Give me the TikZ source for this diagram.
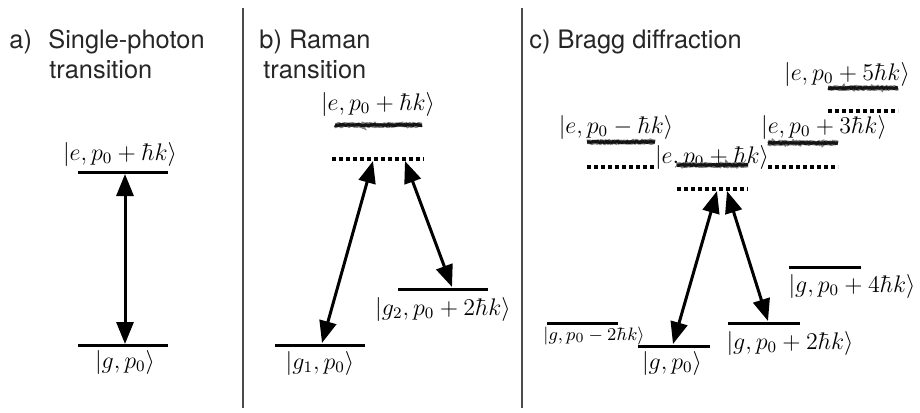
\documentclass[tikz,border=0pt]{standalone}
\usepackage{fontspec}
\setsansfont{TeX Gyre Heros}
\usetikzlibrary{arrows.meta,decorations.pathmorphing}
\tikzset{
  title/.style={inner sep=0pt, anchor=base west, text=black!85, font=\fontsize{12.7}{15}\selectfont\sffamily},
  lab/.style={inner sep=0pt, anchor=base, font=\fontsize{12}{14}\selectfont},
  smalllab/.style={inner sep=0pt, anchor=base, font=\fontsize{9.5}{11}\selectfont},
  level/.style={draw=black, line width=1.5pt},
  virt/.style={draw=black, line width=1.6pt, dash pattern=on 1.8pt off 1.7pt},
  fuzzyhalo/.style={draw=black!50, line width=2.3pt, decorate, decoration={random steps, segment length=0.6pt, amplitude=0.35pt}},
  fuzzycore/.style={draw=black!92, line width=1.6pt, decorate, decoration={random steps, segment length=0.5pt, amplitude=0.2pt}},
  trans/.style={draw=black, line width=1.5pt, {Triangle[length=11pt,width=8.5pt]}-{Triangle[length=11pt,width=8.5pt]}},
  sep/.style={draw=black!70, line width=0.8pt}
}
\newcommand{\fuzzylevel}[3]{%
  \draw[fuzzyhalo] (#1,#3) -- (#2,#3);
  \draw[fuzzycore] (#1,#3) -- (#2,#3);
}
\begin{document}
\begin{tikzpicture}[x=0.5pt,y=-0.5pt]
\useasboundingbox (0,0) rectangle (920,412);
\fill[white] (0,0) rectangle (920,412);

% separators
\coordinate (s1t) at (243,8); \coordinate (s1b) at (243,408);
\coordinate (s2t) at (522,8); \coordinate (s2b) at (522,408);
\draw[sep] (s1t) -- (s1b);
\draw[sep] (s2t) -- (s2b);

% titles
\node[title] (ta) at (9,48) {a)};
\node[title] (ta1) at (48,48) {Single-photon};
\node[title] (ta2) at (49,78) {transition};
\node[title] (tb1) at (259,48) {b) Raman};
\node[title] (tb2) at (263,78) {transition};
\node[title] (tc1) at (529,48) {c) Bragg diffraction};

% ---------------- panel a
\draw[level] (78,172) -- (168,172);
\draw[level] (78,345) -- (168,345);
\node[lab] (ae) at (120,160) {$|e,p_0+\hbar k\rangle$};
\node[lab] (ag) at (125,368) {$|g,p_0\rangle$};
\coordinate (aT) at (125,174);
\coordinate (aB) at (125,344);
\draw[trans] (aT) -- (aB);

% ---------------- panel b
\node[lab] (be) at (378,110) {$|e,p_0+\hbar k\rangle$};
\fuzzylevel{335}{422}{125}
\draw[virt] (332,159) -- (424,159);
\draw[level] (275,345) -- (365,345);
\draw[level] (398,289) -- (488,289);
\node[lab] (bg1) at (320,369) {$|g_1,p_0\rangle$};
\node[lab] (bg2) at (443,315) {$|g_2,p_0+2\hbar k\rangle$};
\coordinate (bv1) at (373,161);
\coordinate (bv2) at (405,161);
\coordinate (bl1) at (322,343);
\coordinate (bl2) at (452,287);
\draw[trans] (bv1) -- (bl1);
\draw[trans] (bv2) -- (bl2);

% ---------------- panel c
% excited manifold
\node[lab] (ce5) at (847,80) {$|e,p_0+5\hbar k\rangle$};
\fuzzylevel{828}{898}{88}
\draw[virt] (828,111) -- (898,111);

\node[lab] (cem) at (616,133) {$|e,p_0-\hbar k\rangle$};
\fuzzylevel{587}{655}{142}
\draw[virt] (587,167) -- (656,167);

\node[lab] (ce3) at (824,133) {$|e,p_0+3\hbar k\rangle$};
\fuzzylevel{768}{838}{143}
\draw[virt] (768,167) -- (838,167);

\node[lab] (ce1) at (712,163) {$|e,p_0+\hbar k\rangle$};
\fuzzylevel{677}{748}{165}
\draw[virt] (677,189) -- (748,189);

% ground manifold
\draw[level] (638,346) -- (710,346);
\node[lab] (cg0) at (672,369) {$|g,p_0\rangle$};
\draw[level] (728,323) -- (800,323);
\node[lab] (cg2) at (790,349) {$|g,p_0+2\hbar k\rangle$};
\draw[level] (789,267) -- (861,267);
\node[lab] (cg4) at (852,292) {$|g,p_0+4\hbar k\rangle$};
\draw[level] (547,323) -- (618,323);
\node[smalllab] (cgm) at (594,340) {$|g,p_0-2\hbar k\rangle$};

\coordinate (cv1) at (717,191);
\coordinate (cv2) at (727,191);
\coordinate (cl1) at (673,344);
\coordinate (cl2) at (768,321);
\draw[trans] (cv1) -- (cl1);
\draw[trans] (cv2) -- (cl2);
\end{tikzpicture}
\end{document}
